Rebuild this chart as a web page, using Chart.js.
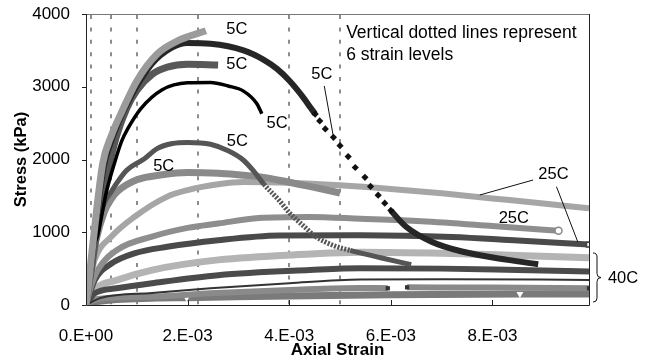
<!DOCTYPE html>
<html>
<head>
<meta charset="utf-8">
<script src="https://cdn.jsdelivr.net/npm/chart.js@4.4.0/dist/chart.umd.min.js"></script>
<style>
  html, body { margin: 0; padding: 0; background: #fff; }
  canvas { display: block; }
</style>
</head>
<body>
<canvas id="c" width="651" height="358"></canvas>
<script>
/* stress vs axial strain, 5C / 25C / 40C test curves */
const FONT = '"Liberation Sans", Arial, sans-serif';

const strainTicks = [0, 0.002, 0.004, 0.006, 0.008];
const strainTickLabels = ['0.E+00', '2.E-03', '4.E-03', '6.E-03', '8.E-03'];
const stressTicks = [0, 1000, 2000, 3000, 4000];
const stressTickLabels = ['0', '1000', '2000', '3000', '4000'];
const strainLevels = [0.0001, 0.0005, 0.001, 0.0022, 0.004, 0.005];

// [strain, stress kPa]
const t5a = [[0,0],[0.00005,280],[0.0001,620],[0.0002,1250],[0.00033,1950],[0.0005,2330],[0.0007,2650],[0.001,3080],[0.0014,3450],[0.0018,3630],[0.00236,3770]];
const t5b = [[0,0],[0.0001,560],[0.0002,1150],[0.00035,1900],[0.0005,2260],[0.00082,2780],[0.00128,3300],[0.00167,3530],[0.002,3600],[0.00245,3590],[0.0031,3500],[0.0035,3370],[0.00376,3245],[0.004,3085],[0.0043,2830],[0.00441,2720],[0.00451,2625],[0.0046,2530],[0.00471,2420],[0.00487,2305],[0.005,2190],[0.00516,2040],[0.0053,1890],[0.00549,1755],[0.0056,1630],[0.00575,1510],[0.00588,1400],[0.006,1300],[0.0063,1075],[0.0068,870],[0.0074,735],[0.0083,620],[0.0089,560]];
const t5c = [[0,0],[0.0001,460],[0.0002,950],[0.0003,1380],[0.0004,1760],[0.0005,2050],[0.0006,2320],[0.0008,2700],[0.001,2950],[0.0013,3170],[0.0016,3270],[0.002,3310],[0.0026,3300]];
const t5d = [[0.00017,850],[0.00023,960],[0.0004,1550],[0.00056,1950],[0.0007,2250],[0.00082,2420],[0.00108,2700],[0.0015,2960],[0.002,3055],[0.00245,3060],[0.0028,3010],[0.0031,2940],[0.00336,2770],[0.00346,2630]];
const t5e = [[0,0],[0.0001,550],[0.0002,1000],[0.00036,1400],[0.0005,1560],[0.0006,1670],[0.0008,1850],[0.00115,2010],[0.0014,2150],[0.0017,2220],[0.002,2235],[0.00245,2210],[0.0028,2120],[0.0031,1990],[0.0033,1840],[0.0035,1660],[0.0038,1440],[0.004,1270],[0.0043,1075],[0.0045,950],[0.0049,810],[0.0052,750],[0.0058,650],[0.0064,555]];
const t5f = [[0,0],[0.0001,500],[0.0002,900],[0.00036,1280],[0.0005,1460],[0.00062,1560],[0.001,1720],[0.0015,1790],[0.002,1820],[0.0026,1810],[0.003,1790],[0.0034,1765],[0.0038,1715],[0.0044,1630],[0.005,1540]];
const t25a = [[0,0],[0.0001,400],[0.00017,620],[0.0005,940],[0.00095,1210],[0.0016,1490],[0.002,1580],[0.0026,1660],[0.0031,1690],[0.004,1680],[0.005,1645],[0.006,1595],[0.007,1535],[0.008,1465],[0.009,1395],[0.0099,1330]];
const t25b = [[0,0],[0.0001,260],[0.00023,480],[0.00062,760],[0.0013,940],[0.002,1060],[0.0026,1120],[0.0034,1195],[0.0044,1210],[0.0054,1185],[0.0066,1150],[0.008,1085],[0.0093,1020]];
const t25c = [[0,0],[0.00017,340],[0.0005,570],[0.00095,710],[0.0016,800],[0.0026,890],[0.0038,955],[0.0054,960],[0.0072,935],[0.0085,885],[0.0099,830]];
const t40a = [[0,0],[0.00017,210],[0.0006,340],[0.0013,480],[0.0026,620],[0.0044,700],[0.0054,725],[0.007,710],[0.0085,680],[0.0099,650]];
const t40b = [[0,0],[0.00017,160],[0.0006,230],[0.0013,300],[0.0026,410],[0.0044,480],[0.0054,505],[0.007,500],[0.0085,480],[0.0099,460]];
const t40c = [[0,0],[0.0003,100],[0.0013,165],[0.00245,230],[0.004,300],[0.0054,350],[0.007,355],[0.0099,345]];
const t40d = [[0,0],[0.0002,80],[0.0013,115],[0.00245,160],[0.004,205],[0.0054,235],[0.00594,230],[0.0061,null],[0.00632,243],[0.008,240],[0.0099,230]];
const t40e = [[0,0],[0.0002,45],[0.0014,95],[0.00198,100],[0.004,125],[0.006,140],[0.00854,150],[0.0099,152]];

const pts = a => a.map(([x, y]) => ({ x, y }));
const inRange = (v, lo, hi) => v >= lo && v <= hi;
const lastIdx = a => a.length - 1;

// first entry is painted on top
const datasets = [
  { data: pts(t5a), borderColor: '#9b9b9b', borderWidth: 7 },
  { data: pts(t5b), borderColor: '#262626', borderWidth: 6,
    segment: { borderColor: c => (c.p0.parsed.x >= 0.0045 && c.p1.parsed.x <= 0.006) ? 'rgba(0,0,0,0)' : undefined },
    pointStyle: 'rectRot', pointBackgroundColor: '#111', pointBorderWidth: 0,
    pointRadius: c => inRange(c.parsed.x, 0.0045, 0.006) ? 3.6 : 0 },
  { data: pts(t5d), borderColor: '#000', borderWidth: 3.5 },
  { data: pts(t5e), borderColor: '#555', borderWidth: 5,
    segment: { borderDash: c => (c.p0.parsed.x >= 0.0034 && c.p1.parsed.x <= 0.0053) ? [2, 1.5] : undefined } },
  { data: pts(t5c), borderColor: '#585858', borderWidth: 7 },
  { data: pts(t5f), borderColor: '#8a8a8a', borderWidth: 7 },
  { data: pts(t25a), borderColor: '#a6a6a6', borderWidth: 6 },
  { data: pts(t25b), borderColor: '#8e8e8e', borderWidth: 6,
    pointStyle: 'circle', pointBackgroundColor: '#fff', pointBorderColor: '#888', pointBorderWidth: 1.5,
    pointRadius: c => c.dataIndex === lastIdx(t25b) ? 3.5 : 0 },
  { data: pts(t25c), borderColor: '#4a4a4a', borderWidth: 6,
    pointStyle: 'rect', pointBackgroundColor: '#fff', pointBorderColor: '#444', pointBorderWidth: 1.5,
    pointRadius: c => c.dataIndex === lastIdx(t25c) ? 3.5 : 0 },
  { data: pts(t40c), borderColor: '#333', borderWidth: 2 },
  { data: pts(t40b), borderColor: '#4b4b4b', borderWidth: 6 },
  { data: pts(t40a), borderColor: '#b4b4b4', borderWidth: 7 },
  { data: pts(t40d), borderColor: '#8a8a8a', borderWidth: 6,
    pointStyle: 'rect', pointBackgroundColor: '#333', pointBorderWidth: 0,
    pointRadius: c => [6, 8, lastIdx(t40d)].includes(c.dataIndex) ? 3 : 0 },
  { data: pts(t40e), borderColor: '#7a7a7a', borderWidth: 7,
    pointStyle: 'triangle', rotation: 180, pointBackgroundColor: '#fff', pointBorderWidth: 0,
    pointRadius: c => [3, 6].includes(c.dataIndex) ? 4 : 0 }
];

// text labels and leader lines, in data units
const notes = [
  { t: '5C', x: 0.00297, y: 3790 },
  { t: '5C', x: 0.00297, y: 3300 },
  { t: '5C', x: 0.00464, y: 3170 },
  { t: '5C', x: 0.00376, y: 2490 },
  { t: '5C', x: 0.00298, y: 2245 },
  { t: '5C', x: 0.00153, y: 1900 },
  { t: '25C', x: 0.0092, y: 1800 },
  { t: '25C', x: 0.00842, y: 1192 },
  { t: '40C', x: 0.01057, y: 367 }
];
const leaders = [
  [0.00469, 3010, 0.00487, 2310],
  [0.00775, 1512, 0.0088, 1718],
  [0.00926, 1626, 0.00968, 866]
];
const noteLines = ['Vertical dotted lines represent', '6 strain levels'];

const decor = {
  id: 'decor',
  beforeDatasetsDraw(chart) {
    const { ctx, chartArea: a, scales: { x } } = chart;
    ctx.save();
    ctx.strokeStyle = '#8c8c8c';
    ctx.lineWidth = 2;
    ctx.setLineDash([4, 8.4]);
    strainLevels.forEach(s => {
      const px = Math.round(x.getPixelForValue(s));
      ctx.beginPath();
      ctx.moveTo(px, a.top + 1);
      ctx.lineTo(px, a.bottom);
      ctx.stroke();
    });
    ctx.restore();
  },
  afterDatasetsDraw(chart) {
    const { ctx, chartArea: a, scales: { x, y } } = chart;
    ctx.save();
    ctx.lineWidth = 1;
    ctx.strokeStyle = '#777';
    ctx.beginPath(); ctx.moveTo(a.left, a.top + 0.5); ctx.lineTo(a.right, a.top + 0.5); ctx.stroke();
    ctx.strokeStyle = '#222';
    ctx.beginPath();
    ctx.moveTo(a.left + 0.5, a.top); ctx.lineTo(a.left + 0.5, a.bottom + 0.5);
    ctx.lineTo(a.right + 0.5, a.bottom + 0.5); ctx.lineTo(a.right + 0.5, a.top);
    ctx.stroke();
    // tick marks: y outside, x inside
    stressTicks.forEach(v => {
      const py = Math.round(y.getPixelForValue(v)) + 0.5;
      ctx.beginPath(); ctx.moveTo(a.left - 4, py); ctx.lineTo(a.left, py); ctx.stroke();
    });
    strainTicks.forEach(v => {
      const px = Math.round(x.getPixelForValue(v)) + 0.5;
      ctx.beginPath(); ctx.moveTo(px, a.bottom); ctx.lineTo(px, a.bottom - 5); ctx.stroke();
    });
    ctx.restore();
  },
  afterDraw(chart) {
    const { ctx, chartArea: a, scales: { x, y } } = chart;
    ctx.save();
    ctx.fillStyle = '#000';
    ctx.strokeStyle = '#111';
    ctx.lineWidth = 1;
    ctx.font = '16.5px ' + FONT;
    ctx.textAlign = 'center';
    ctx.textBaseline = 'middle';
    notes.forEach(n => ctx.fillText(n.t, x.getPixelForValue(n.x), y.getPixelForValue(n.y)));
    leaders.forEach(([x0, y0, x1, y1]) => {
      ctx.beginPath();
      ctx.moveTo(x.getPixelForValue(x0), y.getPixelForValue(y0));
      ctx.lineTo(x.getPixelForValue(x1), y.getPixelForValue(y1));
      ctx.stroke();
    });
    // brace grouping the 40C curves
    const bx = a.right + 4, top = y.getPixelForValue(715), bot = y.getPixelForValue(40);
    const mid = (top + bot) / 2, w = 8, r = 4;
    ctx.beginPath();
    ctx.moveTo(bx, top);
    ctx.quadraticCurveTo(bx + w / 2, top, bx + w / 2, top + r);
    ctx.lineTo(bx + w / 2, mid - r);
    ctx.quadraticCurveTo(bx + w / 2, mid, bx + w, mid);
    ctx.quadraticCurveTo(bx + w / 2, mid, bx + w / 2, mid + r);
    ctx.lineTo(bx + w / 2, bot - r);
    ctx.quadraticCurveTo(bx + w / 2, bot, bx, bot);
    ctx.stroke();
    ctx.textAlign = 'left';
    ctx.font = '17.5px ' + FONT;
    const nx = x.getPixelForValue(0.00512);
    ctx.fillText(noteLines[0], nx, y.getPixelForValue(3735));
    ctx.fillText(noteLines[1], nx, y.getPixelForValue(3436));
    ctx.restore();
  }
};

new Chart(document.getElementById('c'), {
  type: 'line',
  data: { datasets },
  options: {
    responsive: false,
    animation: false,
    layout: { padding: { top: 14, right: 62, left: 0, bottom: 0 } },
    plugins: { legend: { display: false }, tooltip: { enabled: false } },
    elements: {
      point: { radius: 0 },
      line: { cubicInterpolationMode: 'monotone', borderCapStyle: 'butt', borderJoinStyle: 'round' }
    },
    scales: {
      x: {
        type: 'linear', min: 0, max: 0.0099,
        grid: { display: false, drawTicks: false }, border: { display: false },
        afterBuildTicks: s => { s.ticks = strainTicks.map(v => ({ value: v })); },
        afterFit: s => { s.height = 53; s.paddingLeft = 0; s.paddingRight = 0; },
        ticks: { padding: 21, color: '#000', autoSkip: false, maxRotation: 0,
          font: { family: FONT, size: 17 }, callback: (v, i) => strainTickLabels[i] },
        title: { display: true, text: 'Axial Strain', color: '#000',
          font: { family: FONT, size: 17, weight: 'bold', lineHeight: 1 }, padding: { top: 0, bottom: -1 } }
      },
      y: {
        min: 0, max: 4000,
        grid: { display: false, drawTicks: false }, border: { display: false },
        afterBuildTicks: s => { s.ticks = stressTicks.map(v => ({ value: v })); },
        afterFit: s => { s.width = 86; s.paddingTop = 0; s.paddingBottom = 0; },
        ticks: { padding: 16, color: '#000', font: { family: FONT, size: 17 },
          callback: (v, i) => stressTickLabels[i] },
        title: { display: true, text: 'Stress (kPa)', color: '#000',
          font: { family: FONT, size: 16.5, weight: 'bold' }, padding: { top: 12, bottom: 0 } }
      }
    }
  },
  plugins: [decor]
});
</script>
</body>
</html>
